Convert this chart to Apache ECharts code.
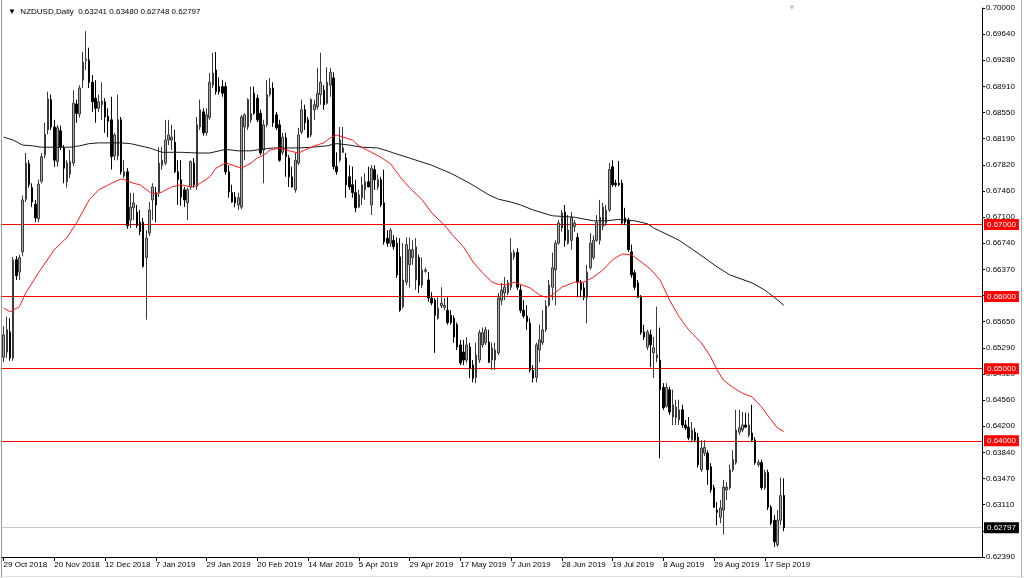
<!DOCTYPE html>
<html><head><meta charset="utf-8">
<script src="https://cdn.jsdelivr.net/npm/echarts@6/dist/echarts.min.js"></script>
<style>html,body{margin:0;padding:0;background:#fff}#c{width:1024px;height:578px}</style>
</head><body><div id="c"></div>
<script>
const symbolName = 'NZDUSD,Daily';
const xTickLabels = ['29 Oct 2018','20 Nov 2018','12 Dec 2018','7 Jan 2019','29 Jan 2019','20 Feb 2019','14 Mar 2019','5 Apr 2019','29 Apr 2019','17 May 2019','7 Jun 2019','28 Jun 2019','19 Jul 2019','8 Aug 2019','29 Aug 2019','17 Sep 2019'];
const yTickLabels = ['0.62390','0.62750','0.63110','0.63470','0.63840','0.64200','0.64560','0.64920','0.65290','0.65650','0.66010','0.66370','0.66740','0.67100','0.67460','0.67820','0.68190','0.68550','0.68910','0.69280','0.69640','0.70000'];
const levels = [0.67, 0.66, 0.65, 0.64];
// [open, high, low, close]
const candles = [
[0.6516,0.6559,0.6509,0.6547],[0.6523,0.6572,0.6515,0.6554],[0.6551,0.6570,0.6511,0.6515],[0.6515,0.6655,0.6511,0.6651],[0.6651,0.6656,0.6623,0.6629],
[0.6634,0.6658,0.6623,0.6654],[0.6662,0.6740,0.6656,0.6734],[0.6735,0.6799,0.6731,0.6785],[0.6784,0.6789,0.6751,0.6755],[0.6751,0.6757,0.6724,0.6731],
[0.6728,0.6734,0.6703,0.6709],[0.6708,0.6762,0.6703,0.6756],[0.6760,0.6799,0.6757,0.6794],[0.6796,0.6841,0.6792,0.6825],[0.6831,0.6884,0.6825,0.6874],
[0.6873,0.6880,0.6831,0.6835],[0.6835,0.6845,0.6780,0.6789],[0.6787,0.6838,0.6780,0.6834],[0.6830,0.6837,0.6803,0.6807],[0.6806,0.6810,0.6757,0.6778],
[0.6759,0.6789,0.6751,0.6785],[0.6770,0.6803,0.6764,0.6787],[0.6785,0.6886,0.6781,0.6868],[0.6867,0.6873,0.6841,0.6854],[0.6853,0.6893,0.6848,0.6889],
[0.6900,0.6939,0.6889,0.6925],[0.6927,0.6968,0.6914,0.6929],[0.6928,0.6945,0.6889,0.6897],[0.6897,0.6907,0.6856,0.6870],[0.6875,0.6900,0.6841,0.6861],
[0.6861,0.6880,0.6856,0.6870],[0.6866,0.6897,0.6845,0.6871],[0.6870,0.6875,0.6827,0.6849],[0.6850,0.6861,0.6821,0.6843],[0.6845,0.6877,0.6776,0.6794],
[0.6795,0.6827,0.6789,0.6824],[0.6795,0.6880,0.6789,0.6845],[0.6845,0.6849,0.6769,0.6773],[0.6767,0.6789,0.6764,0.6773],[0.6773,0.6778,0.6694,0.6698],
[0.6706,0.6744,0.6695,0.6724],[0.6723,0.6744,0.6706,0.6730],[0.6717,0.6727,0.6695,0.6698],[0.6703,0.6720,0.6685,0.6690],[0.6703,0.6709,0.6640,0.6642],
[0.6654,0.6692,0.6568,0.6681],[0.6688,0.6731,0.6684,0.6720],[0.6734,0.6757,0.6706,0.6752],[0.6744,0.6752,0.6703,0.6727],[0.6744,0.6807,0.6738,0.6785],
[0.6782,0.6807,0.6776,0.6789],[0.6785,0.6845,0.6782,0.6817],[0.6817,0.6845,0.6810,0.6824],[0.6817,0.6838,0.6803,0.6821],[0.6814,0.6831,0.6771,0.6773],
[0.6773,0.6789,0.6727,0.6762],[0.6762,0.6789,0.6726,0.6738],[0.6748,0.6752,0.6724,0.6734],[0.6730,0.6751,0.6706,0.6748],[0.6752,0.6789,0.6748,0.6787],
[0.6785,0.6792,0.6751,0.6755],[0.6753,0.6849,0.6748,0.6838],[0.6835,0.6873,0.6831,0.6859],[0.6856,0.6861,0.6823,0.6827],[0.6827,0.6861,0.6823,0.6852],
[0.6848,0.6910,0.6845,0.6897],[0.6893,0.6938,0.6889,0.6910],[0.6914,0.6939,0.6880,0.6884],[0.6891,0.6904,0.6880,0.6884],[0.6891,0.6900,0.6877,0.6882],
[0.6891,0.6897,0.6769,0.6773],[0.6773,0.6782,0.6737,0.6745],[0.6744,0.6755,0.6730,0.6731],[0.6738,0.6745,0.6724,0.6730],[0.6727,0.6744,0.6720,0.6737],
[0.6724,0.6852,0.6721,0.6849],[0.6835,0.6854,0.6789,0.6852],[0.6835,0.6875,0.6831,0.6873],[0.6845,0.6891,0.6841,0.6854],[0.6882,0.6891,0.6852,0.6854],
[0.6875,0.6880,0.6842,0.6845],[0.6854,0.6859,0.6796,0.6799],[0.6803,0.6845,0.6757,0.6838],[0.6838,0.6900,0.6835,0.6880],[0.6880,0.6903,0.6877,0.6889],
[0.6889,0.6897,0.6835,0.6841],[0.6852,0.6856,0.6831,0.6834],[0.6838,0.6845,0.6787,0.6789],[0.6800,0.6827,0.6796,0.6821],[0.6820,0.6827,0.6766,0.6794],
[0.6792,0.6796,0.6752,0.6766],[0.6766,0.6780,0.6751,0.6752],[0.6748,0.6799,0.6744,0.6789],[0.6785,0.6834,0.6782,0.6824],[0.6828,0.6873,0.6825,0.6859],
[0.6859,0.6866,0.6831,0.6841],[0.6845,0.6849,0.6820,0.6821],[0.6824,0.6875,0.6821,0.6873],[0.6859,0.6873,0.6845,0.6866],[0.6863,0.6917,0.6859,0.6882],
[0.6880,0.6938,0.6866,0.6897],[0.6886,0.6893,0.6859,0.6866],[0.6868,0.6918,0.6866,0.6897],[0.6893,0.6917,0.6877,0.6911],[0.6903,0.6911,0.6776,0.6780],
[0.6780,0.6800,0.6769,0.6773],[0.6789,0.6835,0.6786,0.6817],[0.6800,0.6835,0.6799,0.6806],[0.6792,0.6799,0.6737,0.6755],[0.6766,0.6782,0.6748,0.6752],
[0.6755,0.6780,0.6737,0.6744],[0.6744,0.6762,0.6717,0.6723],[0.6724,0.6748,0.6723,0.6741],[0.6737,0.6766,0.6727,0.6755],[0.6748,0.6771,0.6734,0.6759],
[0.6759,0.6780,0.6752,0.6752],[0.6727,0.6782,0.6713,0.6778],[0.6776,0.6782,0.6748,0.6762],[0.6752,0.6769,0.6748,0.6762],[0.6762,0.6766,0.6724,0.6727],
[0.6730,0.6776,0.6672,0.6676],[0.6681,0.6692,0.6669,0.6674],[0.6674,0.6695,0.6669,0.6692],[0.6678,0.6685,0.6665,0.6669],[0.6674,0.6682,0.6626,0.6630],
[0.6655,0.6681,0.6579,0.6581],[0.6586,0.6674,0.6583,0.6623],[0.6620,0.6682,0.6616,0.6672],[0.6644,0.6682,0.6613,0.6665],[0.6654,0.6678,0.6644,0.6665],
[0.6623,0.6681,0.6609,0.6669],[0.6654,0.6658,0.6605,0.6616],[0.6616,0.6654,0.6612,0.6637],[0.6635,0.6640,0.6633,0.6637],[0.6623,0.6634,0.6593,0.6598],
[0.6598,0.6606,0.6588,0.6591],[0.6595,0.6598,0.6522,0.6574],[0.6570,0.6599,0.6568,0.6584],[0.6587,0.6613,0.6584,0.6591],[0.6585,0.6598,0.6581,0.6588],
[0.6581,0.6599,0.6561,0.6564],[0.6574,0.6581,0.6561,0.6564],[0.6570,0.6574,0.6536,0.6544],[0.6561,0.6564,0.6526,0.6530],[0.6533,0.6540,0.6505,0.6508],
[0.6523,0.6540,0.6505,0.6512],[0.6512,0.6544,0.6508,0.6533],[0.6530,0.6536,0.6487,0.6501],[0.6505,0.6512,0.6481,0.6487],[0.6488,0.6536,0.6480,0.6519],
[0.6512,0.6554,0.6508,0.6550],[0.6533,0.6557,0.6529,0.6550],[0.6536,0.6558,0.6533,0.6554],[0.6537,0.6554,0.6508,0.6509],[0.6512,0.6536,0.6498,0.6529],
[0.6512,0.6536,0.6498,0.6526],[0.6522,0.6605,0.6519,0.6598],[0.6595,0.6619,0.6588,0.6609],[0.6605,0.6627,0.6595,0.6613],[0.6605,0.6623,0.6602,0.6619],
[0.6613,0.6681,0.6609,0.6661],[0.6655,0.6665,0.6651,0.6661],[0.6661,0.6667,0.6609,0.6613],[0.6609,0.6616,0.6577,0.6581],[0.6581,0.6595,0.6570,0.6573],
[0.6573,0.6588,0.6554,0.6565],[0.6563,0.6570,0.6495,0.6498],[0.6498,0.6505,0.6481,0.6487],[0.6488,0.6536,0.6481,0.6533],[0.6526,0.6561,0.6509,0.6540],
[0.6536,0.6581,0.6533,0.6554],[0.6554,0.6595,0.6551,0.6587],[0.6588,0.6623,0.6586,0.6616],[0.6613,0.6661,0.6595,0.6640],[0.6637,0.6678,0.6588,0.6674],
[0.6674,0.6706,0.6672,0.6702],[0.6695,0.6720,0.6690,0.6716],[0.6717,0.6727,0.6669,0.6678],[0.6674,0.6713,0.6672,0.6692],[0.6678,0.6717,0.6665,0.6710],
[0.6697,0.6706,0.6690,0.6702],[0.6682,0.6688,0.6599,0.6620],[0.6620,0.6623,0.6599,0.6609],[0.6612,0.6619,0.6595,0.6599],[0.6599,0.6644,0.6563,0.6634],
[0.6640,0.6688,0.6637,0.6674],[0.6654,0.6685,0.6651,0.6678],[0.6678,0.6713,0.6676,0.6703],[0.6678,0.6734,0.6672,0.6710],[0.6697,0.6730,0.6692,0.6724],
[0.6702,0.6727,0.6698,0.6720],[0.6720,0.6785,0.6717,0.6776],[0.6780,0.6789,0.6752,0.6755],[0.6757,0.6762,0.6752,0.6755],[0.6757,0.6788,0.6753,0.6755],
[0.6757,0.6762,0.6699,0.6702],[0.6709,0.6723,0.6699,0.6703],[0.6706,0.6709,0.6662,0.6665],[0.6662,0.6672,0.6626,0.6630],[0.6633,0.6637,0.6609,0.6613],
[0.6619,0.6623,0.6598,0.6599],[0.6599,0.6602,0.6547,0.6550],[0.6551,0.6561,0.6540,0.6544],[0.6530,0.6554,0.6526,0.6551],[0.6547,0.6554,0.6502,0.6533],
[0.6522,0.6544,0.6487,0.6529],[0.6515,0.6586,0.6509,0.6519],[0.6512,0.6557,0.6376,0.6471],[0.6474,0.6480,0.6443,0.6446],[0.6448,0.6480,0.6446,0.6474],
[0.6471,0.6475,0.6436,0.6440],[0.6433,0.6471,0.6422,0.6450],[0.6432,0.6457,0.6422,0.6447],[0.6429,0.6457,0.6422,0.6443],[0.6443,0.6450,0.6418,0.6422],
[0.6422,0.6429,0.6415,0.6418],[0.6419,0.6433,0.6401,0.6404],[0.6401,0.6426,0.6398,0.6415],[0.6412,0.6418,0.6398,0.6401],[0.6405,0.6411,0.6363,0.6367],
[0.6360,0.6401,0.6357,0.6390],[0.6383,0.6401,0.6379,0.6391],[0.6383,0.6387,0.6339,0.6360],[0.6364,0.6369,0.6328,0.6332],[0.6335,0.6339,0.6307,0.6308],
[0.6304,0.6315,0.6283,0.6301],[0.6294,0.6318,0.6286,0.6307],[0.6304,0.6346,0.6270,0.6336],[0.6332,0.6343,0.6318,0.6336],[0.6335,0.6367,0.6332,0.6360],
[0.6360,0.6387,0.6357,0.6374],[0.6370,0.6443,0.6367,0.6415],[0.6412,0.6443,0.6408,0.6418],[0.6415,0.6440,0.6412,0.6422],[0.6422,0.6439,0.6418,0.6419],
[0.6408,0.6439,0.6405,0.6422],[0.6411,0.6450,0.6398,0.6401],[0.6401,0.6405,0.6367,0.6370],[0.6367,0.6374,0.6364,0.6370],[0.6370,0.6374,0.6332,0.6335],
[0.6335,0.6360,0.6332,0.6356],[0.6356,0.6360,0.6304,0.6308],[0.6308,0.6311,0.6283,0.6286],[0.6290,0.6297,0.6253,0.6260],[0.6256,0.6304,0.6253,0.6290],
[0.6290,0.6349,0.6283,0.6324],[0.63241,0.63480,0.62748,0.62797]
];
// moving averages: [bar index, value]
const redMA = [[0,0.6584],[2,0.6579],[5,0.6586],[7,0.6605],[11,0.6633],[16,0.6665],[20,0.6682],[23,0.6702],[27,0.6734],[30,0.6748],[34,0.6757],[37,0.6763],[38,0.6762],[41,0.6757],[43,0.6755],[46,0.6745],[48,0.6742],[50,0.6745],[53,0.6752],[56,0.6755],[58,0.6753],[60,0.6752],[62,0.6757],[65,0.6766],[67,0.6778],[70,0.6785],[71,0.6784],[75,0.6778],[78,0.6785],[80,0.6792],[82,0.6796],[84,0.6803],[87,0.6806],[90,0.6802],[93,0.6799],[95,0.6803],[98,0.6809],[101,0.6813],[103,0.6820],[105,0.6824],[107,0.6821],[110,0.6817],[112,0.6809],[116,0.6800],[119,0.6793],[122,0.6784],[125,0.6766],[128,0.6751],[132,0.6734],[135,0.6716],[139,0.6699],[142,0.6683],[145,0.6669],[148,0.6648],[151,0.6633],[154,0.6620],[156,0.6617],[159,0.6616],[161,0.6620],[163,0.6617],[166,0.6612],[169,0.6602],[171,0.6599],[173,0.6602],[176,0.6613],[180,0.6620],[183,0.6620],[186,0.6627],[189,0.6637],[192,0.6651],[195,0.6659],[198,0.6658],[201,0.6648],[204,0.6638],[207,0.6623],[210,0.6595],[213,0.6572],[216,0.6554],[220,0.6536],[223,0.6516],[225,0.6498],[227,0.6484],[230,0.6474],[233,0.6466],[236,0.6461],[239,0.6447],[242,0.6429],[244,0.6418],[246,0.6413]];
const blackMA = [[0,0.6821],[3,0.6817],[6,0.6810],[9,0.6809],[12,0.6807],[17,0.6807],[21,0.6807],[24,0.6809],[27,0.6812],[30,0.6813],[37,0.6813],[40,0.6812],[46,0.6806],[50,0.6800],[56,0.6800],[61,0.6799],[65,0.6799],[70,0.6804],[74,0.6802],[78,0.6802],[81,0.6804],[85,0.6806],[93,0.6806],[97,0.6807],[102,0.6809],[105,0.6812],[109,0.6810],[113,0.6807],[118,0.6806],[121,0.6802],[123,0.6799],[128,0.6792],[135,0.6782],[141,0.6771],[147,0.6757],[153,0.6741],[156,0.6735],[160,0.6731],[163,0.6727],[167,0.6720],[173,0.6712],[180,0.6710],[186,0.6705],[190,0.6705],[194,0.6707],[199,0.6705],[203,0.6701],[205,0.6695],[213,0.6678],[219,0.6660],[225,0.6641],[229,0.6630],[236,0.6619],[240,0.6609],[243,0.6599],[246,0.6588]];

const slotCount = 309;
const categories = Array.from({length: slotCount}, (_, i) => String(i));
const yMin = 0.6239, yMax = 0.7000;
const yStep = (yMax - yMin) / 21;
const FONT = 'Liberation Sans, Arial, sans-serif';

const last = candles[candles.length - 1];
const header = '\u25BC  ' + symbolName + '  ' + last.map(v => v.toFixed(5)).join(' ');
const ecData = candles.map(r => [r[0], r[3], r[2], r[1]]);

const lvlLines = levels.map(v => ({
  yAxis: v,
  lineStyle: {color: '#ff0000', width: 1, type: 'solid'},
  label: {show: true, position: 'end', distance: 2, formatter: v.toFixed(5), color: '#fff', backgroundColor: '#ff0000',
          fontFamily: FONT, fontSize: 8, padding: [2, 3, 1, 3]}
}));
lvlLines.push({
  yAxis: last[3],
  lineStyle: {color: '#c8c8c8', width: 1, type: 'solid'},
  label: {show: true, position: 'end', distance: 2, formatter: last[3].toFixed(5), color: '#fff', backgroundColor: '#000',
          fontFamily: FONT, fontSize: 8, padding: [2, 3, 1, 3]}
});

const chart = echarts.init(document.getElementById('c'), null, {renderer: 'canvas'});
chart.setOption({
  animation: false,
  backgroundColor: '#fff',
  title: [
    {text: header, left: 3, top: 3, textStyle: {fontFamily: FONT, fontSize: 8, fontWeight: 'normal', color: '#000'}},
    {text: '\u25BC', left: 783, top: -1, textStyle: {fontFamily: FONT, fontSize: 8, fontWeight: 'normal', color: '#c4c4c4'}}
  ],
  graphic: [
    {type: 'line', shape: {x1: 1.5, y1: 0, x2: 1.5, y2: 578}, style: {stroke: '#9a9a9a', lineWidth: 1}, silent: true},
    {type: 'line', shape: {x1: 1021.5, y1: 0, x2: 1021.5, y2: 578}, style: {stroke: '#b0b0b0', lineWidth: 1}, silent: true},
    {type: 'line', shape: {x1: 0, y1: 576.5, x2: 1024, y2: 576.5}, style: {stroke: '#e0e0e0', lineWidth: 1}, silent: true}
  ],
  grid: {left: 2, right: 42, top: 8, bottom: 21, containLabel: false},
  xAxis: {
    type: 'category', data: categories, boundaryGap: true,
    axisLine: {lineStyle: {color: '#000', width: 1}},
    axisTick: {show: true, alignWithLabel: true, length: 4, lineStyle: {color: '#000'},
               interval: (i) => i % 16 === 0 && i / 16 < xTickLabels.length},
    axisLabel: {interval: (i) => i % 16 === 0 && i / 16 < xTickLabels.length,
                formatter: (v) => xTickLabels[Number(v) / 16] || '',
                align: 'left', margin: 4, fontFamily: FONT, fontSize: 8, color: '#000'},
    splitLine: {show: false}
  },
  yAxis: {
    type: 'value', position: 'right', min: yMin, max: yMax, interval: yStep, scale: true,
    axisLine: {show: true, lineStyle: {color: '#000', width: 1}},
    axisTick: {show: true, length: 3, lineStyle: {color: '#000'}},
    axisLabel: {margin: 4, fontFamily: FONT, fontSize: 8, color: '#000',
                formatter: (v) => yTickLabels[Math.round((v - yMin) / yStep)] || ''},
    splitLine: {show: false}
  },
  series: [
    {type: 'line', data: blackMA, showSymbol: false, silent: true, lineStyle: {color: '#1a1a1a', width: 1}, z: 3},
    {type: 'line', data: redMA, showSymbol: false, silent: true, lineStyle: {color: '#ff1a1a', width: 1}, z: 3},
    {type: 'candlestick', data: ecData, barWidth: 2, silent: true, z: 2,
     itemStyle: {color: '#a8a8a8', color0: '#000', borderColor: '#3a3a3a', borderColor0: '#000', borderWidth: 1},
     markLine: {silent: true, symbol: ['none', 'none'], precision: 5, data: lvlLines, z: 1}
    }
  ]
});
</script></body></html>
